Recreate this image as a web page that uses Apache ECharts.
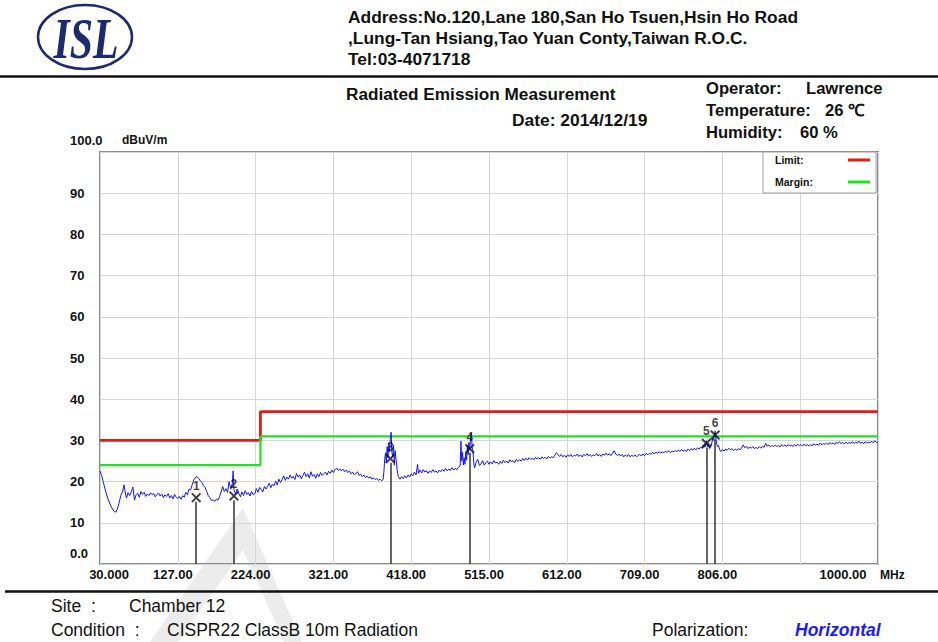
<!DOCTYPE html>
<html><head><meta charset="utf-8">
<script src="https://cdn.jsdelivr.net/npm/echarts@6/dist/echarts.min.js"></script>
<style>html,body{margin:0;padding:0;background:#fff}#c{width:938px;height:642px}</style>
</head><body><div id="c"></div>
<script>
// ---- data ----
const xTicks = [30,127,224,321,418,515,612,709,806,903,1000];
const xTickLabels = ['30.000','127.00','224.00','321.00','418.00','515.00','612.00','709.00','806.00','','1000.00'];
const yTicks = [0,10,20,30,40,50,60,70,80,90,100];
const yTickLabels = ['0.0','10','20','30','40','50','60','70','80','90','100.0'];
const limitLine = [[30,30],[230,30],[230,37],[1000,37]];
const marginLine = [[30,24],[230,24],[230,31],[1000,31]];
const markerNames = ['1','2','3','4','5','6'];
const markerMHz = [150,197,392,491,786,797];
const markerDB = [16.1,16.5,25.6,28.0,29.3,31.3];
const trace = [
[30,22.6],[32,21.5],[34,20.0],[36,18.4],[38,17.0],[40,15.8],[42,14.8],[44,13.9],[46,13.2],[48,12.7],
[50,12.6],[52,13.6],[54,15.0],[56,16.7],[58,17.5],[60,19.2],[61,17.8],[63,16.0],[65,17.3],[67,16.6],
[69,17.5],[71,18.7],[73,15.5],[75,16.8],[77,17.2],[79,16.2],[81,17.6],[83,16.9],[85,17.4],[87,16.4],
[89,17.0],[91,16.6],[93,17.3],[95,16.8],[97,17.1],[99,16.3],[101,16.9],[103,17.2],[105,16.5],[107,17.0],
[109,16.1],[111,16.8],[113,16.4],[115,17.1],[117,16.0],[119,16.6],[121,15.8],[123,16.9],[125,16.2],[127,15.9],
[129,16.4],[131,15.7],[133,16.6],[135,16.2],[137,17.4],[139,16.8],[141,18.2],[143,18.0],[145,19.3],[147,20.4],
[149,21.0],[151,21.2],[153,20.8],[155,20.2],[157,19.8],[159,19.0],[161,18.6],[163,17.6],[165,16.6],[167,16.1],
[169,15.4],[171,15.6],[173,15.2],[175,15.7],[177,15.5],[179,16.3],[181,17.5],[183,18.8],[185,17.6],[187,18.3],
[189,17.4],[191,20.0],[193,18.2],[195,19.5],[196,22.6],[197,18.0],[199,17.0],[201,18.2],[203,17.2],[205,16.3],
[207,17.5],[209,16.6],[211,17.8],[213,16.9],[215,17.3],[217,16.5],[219,17.6],[221,16.8],[223,17.1],[225,18.3],
[227,17.4],[229,18.6],[231,18.0],[233,17.5],[235,18.8],[237,18.2],[239,18.9],[241,19.6],[243,18.5],[245,19.4],
[247,19.0],[249,20.1],[251,19.2],[253,20.6],[255,19.8],[257,20.5],[259,21.4],[261,20.3],[263,21.1],[265,20.6],
[267,21.6],[269,20.8],[271,21.3],[273,20.5],[275,22.0],[277,21.1],[279,21.6],[281,20.7],[283,21.5],[285,22.3],
[287,21.2],[289,21.9],[291,20.9],[293,22.4],[295,21.3],[297,21.7],[299,20.8],[301,21.9],[303,21.2],[305,22.2],
[307,21.5],[309,21.9],[311,22.3],[313,21.6],[315,22.5],[317,22.0],[319,22.8],[321,22.2],[323,22.9],[325,23.3],
[327,22.7],[329,23.1],[331,22.6],[333,23.0],[335,22.4],[337,22.8],[339,22.2],[341,22.6],[343,21.9],[345,22.3],
[347,21.7],[349,21.9],[351,22.4],[353,21.5],[355,21.8],[357,21.2],[359,21.6],[361,21.0],[363,21.3],[365,20.8],
[367,21.2],[369,20.6],[371,20.9],[373,20.5],[375,20.8],[377,20.3],[379,20.6],[381,20.2],[383,20.5],[384,22.5],
[385,25.5],[386,27.0],[387,24.5],[388,28.5],[389,25.8],[390,29.3],[391,27.2],[392,30.5],[393,32.0],[394,27.0],
[395,26.0],[396,28.8],[397,24.0],[398,27.5],[399,25.5],[400,23.8],[401,22.0],[402,21.2],[404,20.6],[406,21.2],
[408,20.7],[410,21.4],[412,20.9],[414,21.6],[416,21.1],[418,21.9],[420,21.4],[422,22.3],[424,21.6],[426,24.2],
[427,22.0],[429,22.8],[431,22.1],[433,22.9],[435,22.3],[437,22.7],[439,22.0],[441,22.6],[443,22.2],[445,22.9],
[447,22.3],[449,22.6],[451,22.1],[453,22.8],[455,22.4],[457,23.0],[459,22.5],[461,23.2],[463,22.6],[465,23.1],
[467,22.7],[469,23.4],[471,22.8],[473,23.2],[475,22.9],[477,23.5],[479,23.8],[480,29.8],[481,25.0],[482,27.2],
[483,24.0],[484,25.8],[485,24.2],[486,27.0],[487,25.2],[488,28.9],[489,26.5],[490,29.5],[491,27.8],[492,30.5],
[493,31.8],[494,28.2],[495,27.5],[496,24.5],[497,23.3],[499,24.8],[501,25.4],[503,23.9],[505,24.3],[507,25.1],
[509,24.0],[511,24.6],[513,25.0],[515,24.2],[517,24.8],[519,24.3],[521,25.1],[523,24.5],[525,24.7],[527,24.2],
[529,24.9],[531,24.4],[533,25.2],[535,24.6],[537,25.0],[539,24.5],[541,25.3],[543,24.8],[545,25.1],[547,24.6],
[549,25.4],[551,24.9],[553,25.3],[555,25.0],[557,25.6],[559,25.1],[561,25.7],[563,25.2],[565,25.8],[567,25.4],
[569,25.7],[571,25.3],[573,25.9],[575,25.5],[577,25.8],[579,25.4],[581,26.0],[583,25.6],[585,25.9],[587,25.5],
[589,26.1],[591,25.7],[593,26.0],[595,25.8],[597,26.4],[599,27.0],[601,26.5],[603,26.1],[605,26.6],[607,26.0],
[609,26.4],[611,25.9],[613,26.5],[615,26.1],[617,26.6],[619,26.0],[621,26.4],[623,26.2],[625,26.7],[627,26.1],
[629,26.5],[631,26.0],[633,26.6],[635,26.3],[637,26.8],[639,26.2],[641,26.6],[643,26.1],[645,26.5],[647,26.3],
[649,26.8],[651,26.2],[653,26.6],[655,26.1],[657,26.7],[659,26.4],[661,26.9],[663,26.4],[665,26.8],[667,26.3],
[669,26.9],[671,27.5],[673,26.7],[675,26.3],[677,26.7],[679,26.2],[681,26.6],[683,26.0],[685,26.5],[687,26.1],
[689,26.6],[691,26.0],[693,26.4],[695,26.1],[697,26.5],[699,26.0],[701,26.4],[703,26.6],[705,26.2],[707,26.7],
[709,26.3],[711,26.9],[713,26.5],[715,26.9],[717,26.6],[719,27.1],[721,26.7],[723,27.2],[725,26.8],[727,27.3],
[729,26.9],[731,27.2],[733,27.0],[735,27.4],[737,27.1],[739,27.5],[741,27.0],[743,27.4],[745,27.2],[747,27.6],
[749,27.2],[751,27.7],[753,27.3],[755,27.8],[757,27.4],[759,27.7],[761,27.3],[763,27.9],[765,27.5],[767,28.0],
[769,27.6],[771,28.1],[773,27.7],[775,28.2],[777,27.9],[779,28.4],[781,28.0],[782,28.9],[783,28.3],[784,29.2],
[785,28.5],[786,29.9],[787,29.1],[788,28.4],[789,29.3],[790,28.0],[791,29.0],[792,28.6],[793,29.6],[794,30.5],
[795,30.0],[796,31.3],[797,32.3],[798,30.2],[799,29.0],[800,28.5],[801,28.8],[802,28.2],[803,27.6],[804,27.3],
[806,27.8],[808,27.4],[810,27.9],[812,27.6],[814,28.1],[816,27.7],[818,28.0],[820,27.5],[822,27.9],[824,27.6],
[826,28.0],[828,27.7],[830,28.2],[832,28.9],[834,28.2],[836,28.6],[838,28.0],[840,28.4],[842,28.1],[844,28.5],
[846,28.0],[848,28.3],[850,28.0],[852,28.5],[854,28.1],[856,28.6],[858,28.3],[860,29.3],[862,28.6],[864,28.9],
[866,28.4],[868,28.8],[870,28.5],[872,28.9],[874,28.5],[876,28.8],[878,28.4],[880,29.0],[882,28.6],[884,28.9],
[886,28.5],[888,29.0],[890,28.6],[892,28.9],[894,28.5],[896,29.0],[898,28.6],[900,29.1],[902,28.7],[904,29.0],
[906,28.6],[908,29.1],[910,28.7],[912,29.0],[914,28.6],[916,29.0],[918,28.7],[920,29.2],[922,28.8],[924,29.1],
[926,28.8],[928,29.4],[930,28.9],[932,29.3],[934,29.0],[936,29.4],[938,29.0],[940,29.5],[942,29.1],[944,29.4],
[946,29.0],[948,29.6],[950,29.2],[952,29.7],[954,29.2],[956,29.5],[958,29.1],[960,29.6],[962,29.2],[964,29.5],
[966,29.3],[968,29.7],[970,29.2],[972,29.6],[974,29.3],[976,29.8],[978,29.3],[980,29.6],[982,29.2],[984,29.7],
[986,29.3],[988,29.6],[990,29.4],[992,29.8],[994,29.4],[996,29.9],[998,29.5],[1000,29.7]
];

// ---- chart ----
const chart = echarts.init(document.getElementById('c'), null, {renderer:'svg', width:938, height:642});
const HF = '"Liberation Sans", Arial, sans-serif';
const AX = {fontFamily:HF, fontWeight:'bold', fontSize:13, color:'#111'};
function txt(x, y, s, font, fill){
  return {type:'text', x:x, y:y, silent:true, z:10,
    style:{text:s, font:font, fill:fill||'#111', textVerticalAlign:'middle', textAlign:'left'}};
}
const option = {
  animation:false,
  backgroundColor:'#fff',
  grid:{left:100, right:60, top:152, bottom:78, show:true, borderColor:'#8c8c8c', borderWidth:2, backgroundColor:'transparent'},
  legend:{
    data:['Limit:','Margin:'], orient:'vertical', left:763, top:152, align:'right',
    icon:'rect', itemWidth:22, itemHeight:3, itemGap:10, padding:[2,6,5,12],
    backgroundColor:'#fff', borderColor:'#a0a0a0', borderWidth:1, borderRadius:0,
    selectedMode:false,
    formatter:'{a|{name}}',
    textStyle:{fontFamily:HF, fontWeight:'bold', fontSize:10.5, color:'#111', lineHeight:12,
      rich:{a:{fontFamily:HF, fontWeight:'bold', fontSize:10.5, color:'#111', width:68, align:'left'}}}
  },
  xAxis:{
    type:'value', min:30, max:1000, interval:97,
    axisLine:{show:false}, axisTick:{show:false},
    splitLine:{show:true, lineStyle:{color:'#d6d6d6', width:1}},
    name:'MHz', nameLocation:'end', nameGap:2,
    nameTextStyle:Object.assign({}, AX, {fontSize:12, verticalAlign:'top', padding:[5,0,0,0], align:'left'}),
    axisLabel:{
      margin:4, showMinLabel:true, showMaxLabel:true,
      formatter:function(v){
        const i = xTicks.indexOf(Math.round(v));
        if(i < 0 || !xTickLabels[i]) return '';
        if(i === 0) return '{f|' + xTickLabels[i] + '}';
        if(i === xTicks.length-1) return '{e|' + xTickLabels[i] + '}';
        return '{m|' + xTickLabels[i] + '}';
      },
      rich:{
        f:Object.assign({}, AX, {padding:[0,0,0,18]}),
        m:Object.assign({}, AX, {padding:[0,10,0,0]}),
        e:Object.assign({}, AX, {padding:[0,70,0,0]})
      }
    }
  },
  yAxis:{
    type:'value', min:0, max:100, interval:10,
    axisLine:{show:false}, axisTick:{show:false},
    splitLine:{show:true, lineStyle:{color:'#d6d6d6', width:1}},
    name:'dBuV/m', nameLocation:'end', nameGap:12,
    nameTextStyle:Object.assign({}, AX, {fontSize:12, align:'left', verticalAlign:'middle', padding:[0,0,0,22]}),
    axisLabel:{
      margin:30, align:'left', showMinLabel:true, showMaxLabel:true,
      formatter:function(v){
        const i = yTicks.indexOf(Math.round(v));
        if(i < 0) return '';
        if(i === 0) return '{z|' + yTickLabels[i] + '}';
        if(i === yTicks.length-1) return '{t|' + yTickLabels[i] + '}';
        return '{n|' + yTickLabels[i] + '}';
      },
      rich:{
        z:Object.assign({}, AX, {padding:[0,0,22,0]}),
        t:Object.assign({}, AX, {padding:[0,0,24,0]}),
        n:Object.assign({}, AX)
      }
    }
  },
  series:[
    {name:'Limit:', type:'line', data:limitLine, showSymbol:false, symbol:'none', color:'#e21b1b',
      lineStyle:{color:'#e21b1b', width:2.8}, z:2, silent:true},
    {name:'Margin:', type:'line', data:marginLine, showSymbol:false, symbol:'none', color:'#22e022',
      lineStyle:{color:'#22e022', width:2.2}, z:2, silent:true},
    {name:'trace', type:'line', data:trace, showSymbol:false, symbol:'none', sampling:'none', color:'#1414ff',
      lineStyle:{color:'#1414ff', width:1}, z:3, silent:true},
    {name:'markers', type:'scatter', z:4, silent:true,
      data:markerMHz.map(function(f,i){ return [f, markerDB[i]]; }),
      symbol:'path://M0,1.4L1.4,0L5,3.6L8.6,0L10,1.4L6.4,5L10,8.6L8.6,10L5,6.4L1.4,10L0,8.6L3.6,5Z',
      symbolSize:10, itemStyle:{color:'#111'},
      label:{show:true, position:'top', distance:1, formatter:function(p){ return markerNames[p.dataIndex]; },
        fontFamily:HF, fontWeight:'bold', fontSize:12, color:'#111'},
      markLine:{silent:true, symbol:['none','none'], label:{show:false},
        lineStyle:{color:'#333', width:1.5, type:'solid'},
        data:markerMHz.map(function(f,i){ return [{coord:[f,0]},{coord:[f,markerDB[i]-1]}]; })}
    }
  ],
  graphic:[
    {type:'polygon', silent:true, z:-10,
      shape:{points:[[150,642],[243,508],[302,642],[284,642],[243,550],[178,642]]},
      style:{fill:'#ececec'}},
    {type:'ellipse', silent:true, shape:{cx:85, cy:37, rx:47, ry:32}, style:{fill:'none', stroke:'#1c2b6e', lineWidth:2.5}},
    {type:'text', silent:true, x:86, y:38, scaleX:0.72,
      style:{text:'ISL', font:'bold italic 58px "Liberation Serif", "DejaVu Serif", serif', fill:'#1c2b6e', textAlign:'center', textVerticalAlign:'middle'}},
    txt(348,17,'Address:No.120,Lane 180,San Ho Tsuen,Hsin Ho Road','bold 17.4px '+HF),
    txt(348,38,',Lung-Tan Hsiang,Tao Yuan Conty,Taiwan R.O.C.','bold 17.4px '+HF),
    txt(348,59,'Tel:03-4071718','bold 17.4px '+HF),
    {type:'line', silent:true, shape:{x1:0, y1:76.5, x2:938, y2:76.5}, style:{stroke:'#111', lineWidth:2.5}},
    txt(346,94,'Radiated Emission Measurement','bold 17.2px '+HF),
    txt(512,120,'Date: 2014/12/19','bold 17.4px '+HF),
    txt(706,88,'Operator:','bold 16.6px '+HF),
    txt(806,88,'Lawrence','bold 16.6px '+HF),
    txt(706,110,'Temperature:','bold 16.6px '+HF),
    txt(825,110,'26 \u2103','bold 16.6px '+HF),
    txt(706,132,'Humidity:','bold 16.6px '+HF),
    txt(800,132,'60 %','bold 16.6px '+HF),
    {type:'line', silent:true, shape:{x1:5, y1:591.5, x2:938, y2:591.5}, style:{stroke:'#111', lineWidth:2.5}},
    txt(51,606,'Site  :','17.5px '+HF),
    txt(129,606,'Chamber 12','17.5px '+HF),
    txt(51,630,'Condition  :','17.5px '+HF),
    txt(167,630,'CISPR22 ClassB 10m Radiation','17.5px '+HF),
    txt(652,630,'Polarization:','17.5px '+HF),
    txt(795,630,'Horizontal','italic bold 17.5px '+HF, '#1a1aff')
  ]
};
chart.setOption(option);
</script></body></html>
